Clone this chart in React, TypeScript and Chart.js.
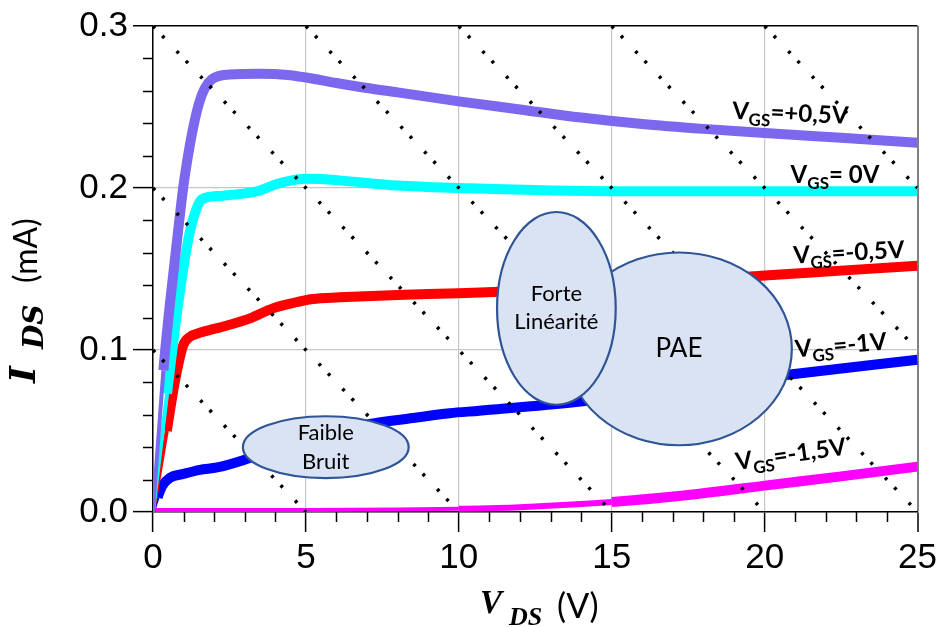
import React, { useEffect, useRef } from 'react';
import { Chart, registerables } from 'chart.js';

Chart.register(...registerables);

// ---- Data (V in volts, I in mA) ----
const xVgsP05 = [0, 0.34, 0.55, 0.77, 1.03, 1.5, 1.92, 2.5, 3.5, 4.4, 5.0, 6.0, 7, 8, 10, 12, 14, 16, 18, 20, 22.5, 25];
const yVgsP05 = [0, 0.0875, 0.128, 0.165, 0.206, 0.252, 0.267, 0.27, 0.2705, 0.2698, 0.2682, 0.2648, 0.2617, 0.259, 0.2535, 0.2485, 0.2435, 0.2395, 0.2365, 0.234, 0.231, 0.228];

const xVgs0 = [0, 0.46, 0.8, 1.15, 1.4, 1.6, 2.1, 3.0, 3.5, 4.0, 4.5, 5.0, 5.5, 6.1, 8, 10, 15, 20, 25];
const yVgs0 = [0, 0.073, 0.125, 0.168, 0.186, 0.193, 0.195, 0.1967, 0.1985, 0.2022, 0.2046, 0.2057, 0.2055, 0.2047, 0.2015, 0.2, 0.198, 0.198, 0.198];

const xVgsM05 = [0, 0.45, 0.72, 0.99, 1.2, 1.44, 2.4, 3.17, 3.92, 4.57, 5.22, 6.1, 8, 10, 12.5, 15, 17.5, 20, 22.5, 25];
const yVgsM05 = [0, 0.05, 0.081, 0.103, 0.108, 0.11, 0.115, 0.1195, 0.1257, 0.129, 0.1315, 0.1325, 0.134, 0.135, 0.137, 0.14, 0.1425, 0.146, 0.149, 0.152];

const xVgsM1 = [0, 0.15, 0.3, 0.55, 1.0, 1.53, 2.1, 2.95, 4, 5, 6, 7, 8.5, 9.7, 10.67, 13.9, 17, 20.9, 25];
const yVgsM1 = [0, 0.009, 0.016, 0.021, 0.0235, 0.026, 0.0275, 0.032, 0.039, 0.045, 0.05, 0.054, 0.058, 0.061, 0.0625, 0.068, 0.076, 0.085, 0.094];

const xVgsM15 = [0, 5, 8, 10, 12, 15, 17.5, 20, 22.5, 25];
const yVgsM15 = [0.0012, 0.0012, 0.0015, 0.002, 0.003, 0.0062, 0.0105, 0.0163, 0.022, 0.028];

// load lines (dotted), endpoints
const loadStartX = [0, 0, 0, 5, 10, 15, 20];
const loadStartY = [0.1, 0.2, 0.3, 0.3, 0.3, 0.3, 0.3];
const loadEndX = [5, 10, 15, 20, 25, 25, 25];
const loadEndY = [0, 0, 0, 0, 0, 0.1, 0.2];

const xTickLabels = ['0', '5', '10', '15', '20', '25'];
const yTickLabels = ['0.0', '0.1', '0.2', '0.3'];

const vgsTexts = ['=+0,5V', '= 0V', '=-0,5V', '=-1V', '=-1,5V'];

// annotation placement (data units) and styling
const labelAnchors = [
  { x: 18.93, y: 0.2428, rot: 2.5 },
  { x: 20.85, y: 0.2033, rot: 0 },
  { x: 20.95, y: 0.1534, rot: -3 },
  { x: 21.02, y: 0.0955, rot: -5 },
  { x: 19.09, y: 0.0259, rot: -8 },
];

const ellipses = [
  { cx: 17.2, cy: 0.1007, rx: 3.69, ry: 0.0595, lines: ['PAE'], size: 26, gap: 0 },
  { cx: 13.19, cy: 0.1257, rx: 1.94, ry: 0.0595, lines: ['Forte', 'Linéarité'], size: 22, gap: 28 },
  { cx: 5.65, cy: 0.04, rx: 2.71, ry: 0.0191, lines: ['Faible', 'Bruit'], size: 22, gap: 29 },
];

const toPts = (xs: number[], ys: number[]) => xs.map((x, i) => ({ x, y: ys[i] }));

const overlayPlugin = {
  id: 'overlay',
  afterDatasetsDraw(chart: any) {
    const { ctx, scales } = chart;
    const xs = scales.x;
    const ys = scales.y;
    ellipses.forEach((e) => {
      const px = xs.getPixelForValue(e.cx);
      const py = ys.getPixelForValue(e.cy);
      const rx = Math.abs(xs.getPixelForValue(e.cx + e.rx) - px);
      const ry = Math.abs(ys.getPixelForValue(e.cy + e.ry) - py);
      ctx.save();
      ctx.beginPath();
      ctx.ellipse(px, py, rx, ry, 0, 0, Math.PI * 2);
      ctx.fillStyle = '#DAE3F3';
      ctx.fill();
      ctx.lineWidth = 2.2;
      ctx.strokeStyle = '#2F5597';
      ctx.stroke();
      ctx.fillStyle = '#000';
      ctx.font = `${e.size}px Lato`;
      ctx.textAlign = 'center';
      ctx.textBaseline = 'middle';
      e.lines.forEach((t, i) => {
        ctx.fillText(t, px, py + (i - (e.lines.length - 1) / 2) * e.gap);
      });
      ctx.restore();
    });
    vgsTexts.forEach((t, i) => {
      const a = labelAnchors[i];
      const px = xs.getPixelForValue(a.x);
      const py = ys.getPixelForValue(a.y);
      const size = 24;
      ctx.save();
      ctx.translate(px, py);
      ctx.rotate((a.rot * Math.PI) / 180);
      ctx.fillStyle = '#000';
      ctx.textAlign = 'left';
      ctx.textBaseline = 'alphabetic';
      ctx.font = `bold ${size}px Lato`;
      ctx.fillText('V', 0, 0);
      let w = ctx.measureText('V').width;
      ctx.font = `bold ${Math.round(size * 0.7)}px Lato`;
      ctx.fillText('GS', w, size * 0.25);
      w += ctx.measureText('GS').width;
      ctx.font = `bold ${size}px Lato`;
      ctx.fillText(t, w, 0);
      ctx.restore();
    });
  },
  afterDraw(chart: any) {
    const { ctx, scales, chartArea } = chart;
    const xs = scales.x;
    const ys = scales.y;
    ctx.save();
    ctx.strokeStyle = '#000';
    ctx.lineWidth = 1.5;
    for (let v = 1; v < 25; v++) {
      if (v % 5 === 0) continue;
      const px = Math.round(xs.getPixelForValue(v)) + 0.5;
      ctx.beginPath();
      ctx.moveTo(px, chartArea.bottom);
      ctx.lineTo(px, chartArea.bottom + 10);
      ctx.stroke();
    }
    for (let k = 1; k < 15; k++) {
      if (k % 5 === 0) continue;
      const py = Math.round(ys.getPixelForValue(k * 0.02)) + 0.5;
      ctx.beginPath();
      ctx.moveTo(chartArea.left - 10, py);
      ctx.lineTo(chartArea.left, py);
      ctx.stroke();
    }
    ctx.fillStyle = '#000';
    ctx.textBaseline = 'alphabetic';
    ctx.textAlign = 'left';
    // X title: V_DS (V)
    ctx.font = 'bold italic 33px "Liberation Serif"';
    ctx.fillText('V', 480, 613);
    ctx.font = 'bold italic 26px "Liberation Serif"';
    ctx.fillText('DS', 509, 625);
    ctx.font = '34px Lato';
    ctx.fillText('(V)', 557, 618);
    // Y title: I_DS (mA)
    ctx.save();
    ctx.translate(35, 385);
    ctx.rotate(-Math.PI / 2);
    ctx.font = 'bold italic 36px "DejaVu Serif"';
    ctx.fillText('I', 2, 0);
    ctx.font = 'bold italic 28px "DejaVu Serif"';
    ctx.fillText('DS', 36, 8);
    ctx.font = '32px Lato';
    ctx.fillText('(mA)', 102, 2);
    ctx.restore();
    ctx.restore();
  },
};

export default function App() {
  const ref = useRef<HTMLCanvasElement | null>(null);
  useEffect(() => {
    if (!ref.current) return;
    const curve = (xs: number[], ys: number[], color: string, thinFirst = true) => ({
      data: toPts(xs, ys),
      borderColor: color,
      backgroundColor: color,
      borderWidth: 10,
      pointRadius: 0,
      fill: false,
      cubicInterpolationMode: 'monotone' as const,
      borderCapStyle: 'butt' as const,
      borderJoinStyle: 'round' as const,
      order: 1,
      segment: {
        borderWidth: (c: any) => (thinFirst && c.p0DataIndex === 0 ? 4 : undefined),
      },
    });
    const loads = loadStartX.map((sx, i) => ({
      data: [
        { x: sx, y: loadStartY[i] },
        { x: loadEndX[i], y: loadEndY[i] },
      ],
      borderColor: '#000',
      borderWidth: 3.5,
      borderDash: [3, 10.5, 3, 18],
      borderCapStyle: 'butt' as const,
      pointRadius: 0,
      tension: 0,
      fill: false,
      order: 0,
    }));
    const magenta = {
      ...curve(xVgsM15, yVgsM15, '#FF00FF', false),
      segment: {
        borderWidth: (c: any) => {
          const x0 = c.p0.parsed.x;
          if (x0 < 9) return 4;
          if (x0 < 15) return 6;
          return 10;
        },
      },
    };
    const chart = new Chart(ref.current, {
      type: 'line',
      data: {
        datasets: [
          ...loads,
          curve(xVgsP05, yVgsP05, '#7B68EE'),
          curve(xVgs0, yVgs0, '#00FFFF'),
          curve(xVgsM05, yVgsM05, '#FF0000'),
          curve(xVgsM1, yVgsM1, '#0000FF'),
          magenta,
        ] as any,
      },
      options: {
        animation: false,
        responsive: false,
        devicePixelRatio: 1,
        layout: { padding: { top: 25, right: 23, left: 0, bottom: 0 } },
        plugins: { legend: { display: false }, tooltip: { enabled: false } },
        events: [],
        scales: {
          x: {
            type: 'linear',
            min: 0,
            max: 25,
            afterFit: (s: any) => {
              s.height = 115;
            },
            ticks: {
              stepSize: 5,
              padding: 5,
              color: '#000',
              font: { family: '"Liberation Sans", Arial', size: 35 },
              callback: (_v: any, i: number) => xTickLabels[i],
              maxRotation: 0,
              autoSkip: false,
            },
            grid: {
              color: (c: any) => (c.tick && c.tick.value === 25 ? '#808080' : '#c6c6c6'),
              lineWidth: (c: any) => (c.tick && c.tick.value === 25 ? 2 : 1.2),
              tickColor: '#000',
              tickLength: 20,
              tickWidth: 1.5,
            },
            border: { color: '#000', width: 1.5 },
          },
          y: {
            type: 'linear',
            min: 0,
            max: 0.3,
            afterFit: (s: any) => {
              s.width = 153;
            },
            ticks: {
              stepSize: 0.1,
              padding: 5,
              color: '#000',
              font: { family: '"Liberation Sans", Arial', size: 35 },
              callback: (_v: any, i: number) => yTickLabels[i],
              autoSkip: false,
            },
            grid: {
              color: (c: any) => (c.tick && Math.abs(c.tick.value - 0.3) < 1e-9 ? '#000' : '#c6c6c6'),
              lineWidth: (c: any) => (c.tick && Math.abs(c.tick.value - 0.3) < 1e-9 ? 1.5 : 1.2),
              tickColor: '#000',
              tickLength: 20,
              tickWidth: 1.5,
            },
            border: { color: '#000', width: 1.5 },
          },
        },
      },
      plugins: [overlayPlugin],
    });
    return () => chart.destroy();
  }, []);
  return (
    <div style={{ position: 'absolute', left: 0, top: 0, width: 942, height: 627, background: '#fff' }}>
      <canvas ref={ref} width={942} height={627} style={{ width: 942, height: 627, display: 'block' }} />
    </div>
  );
}
